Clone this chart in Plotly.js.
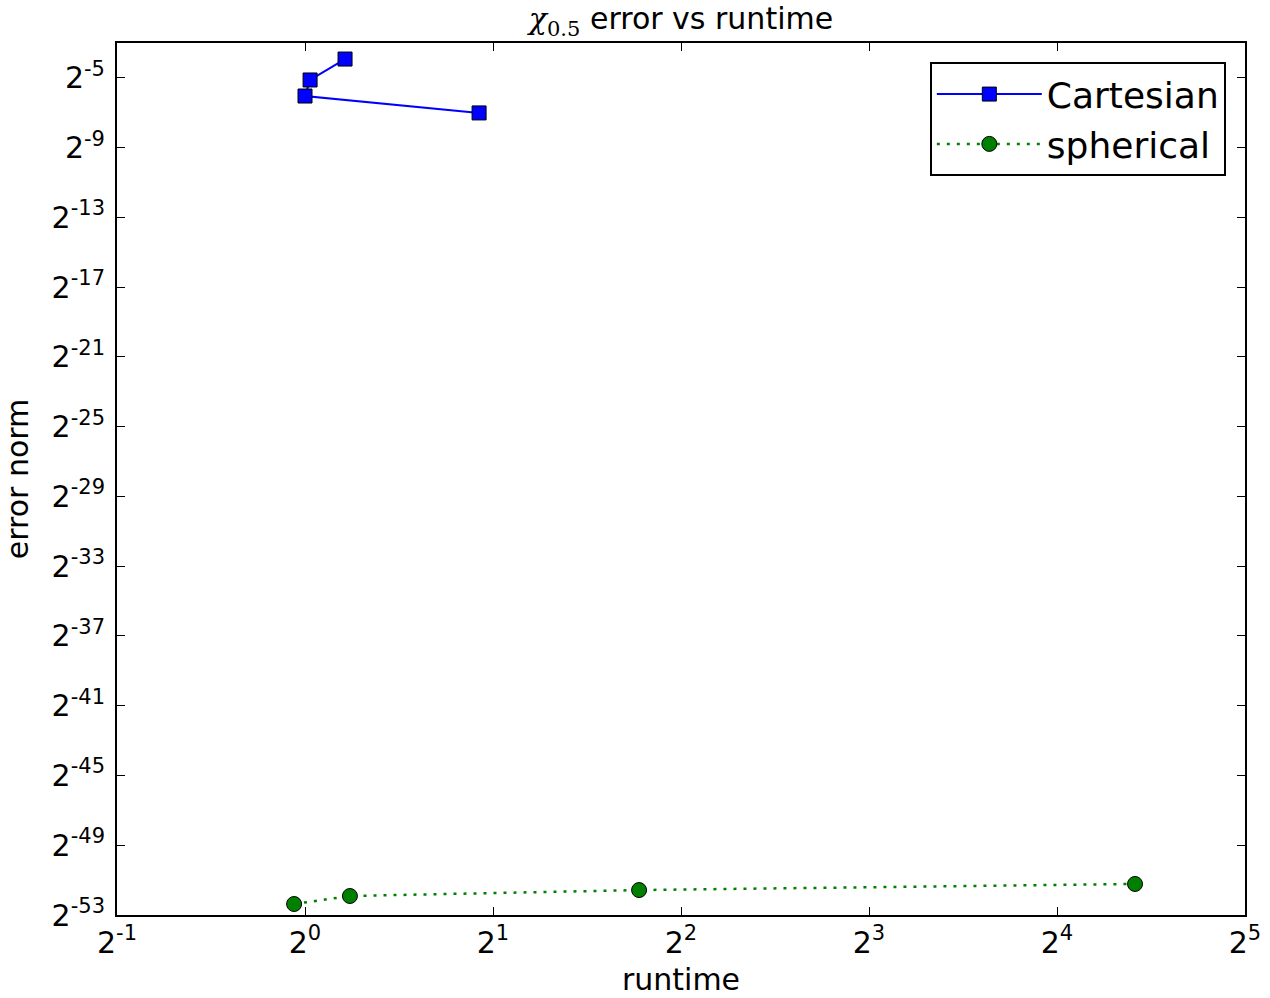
<!DOCTYPE html>
<html>
<head>
<meta charset="utf-8">
<script src="https://cdn.plot.ly/plotly-3.0.1.min.js"></script>
<style>html,body{margin:0;padding:0;background:#fff;}#chart{width:1270px;height:998px;}</style>
</head>
<body>
<div id="chart"></div>
<script>
// exponents (base 2)
const cartesianLog2X = [0.213, 0.027, 0.0, 0.926];
const cartesianLog2Y = [-3.92, -5.12, -6.04, -7.01];
const sphericalLog2X = [-0.058, 0.239, 1.777, 4.415];
const sphericalLog2Y = [-52.37, -51.91, -51.57, -51.22];
const xTickExps = [-1, 0, 1, 2, 3, 4, 5];
const yTickExps = [-5, -9, -13, -17, -21, -25, -29, -33, -37, -41, -45, -49, -53];

const p2 = e => Math.pow(2, e);
const font = "DejaVu Sans, sans-serif";

const traces = [
  {
    x: cartesianLog2X.map(p2), y: cartesianLog2Y.map(p2),
    name: "Cartesian", mode: "lines+markers",
    line: {color: "#0000ff", width: 2},
    marker: {symbol: "square", size: 14, color: "#0000ff", line: {color: "#000", width: 1}}
  },
  {
    x: sphericalLog2X.map(p2), y: sphericalLog2Y.map(p2),
    name: "spherical", mode: "lines+markers",
    line: {color: "#008000", width: 2.5, dash: "3px,7px"},
    marker: {symbol: "circle", size: 15, color: "#008000", line: {color: "#000", width: 1}}
  }
];

const axisCommon = {
  type: "log", showgrid: false, zeroline: false,
  showline: true, linecolor: "#000", linewidth: 2, mirror: "ticks",
  ticks: "inside", ticklen: 8, tickwidth: 1, tickcolor: "#000",
  tickfont: {family: font, size: 30, color: "#000"}
};

const layout = {
  width: 1270, height: 998,
  margin: {l: 117, r: 25, t: 43, b: 83},
  paper_bgcolor: "#fff", plot_bgcolor: "#fff",
  font: {family: font, color: "#000"},
  title: {
    text: "<span style=\"font-family:'DejaVu Serif'\"><i>χ</i><sub>0.5</sub></span> error vs runtime",
    font: {family: font, size: 30, color: "#000"},
    xref: "paper", x: 0.5, xanchor: "center", yref: "container", y: 0.981, yanchor: "middle"
  },
  xaxis: Object.assign({}, axisCommon, {
    range: [Math.log10(p2(-1)), Math.log10(p2(5))],
    tickvals: xTickExps.map(p2),
    ticktext: xTickExps.map(e => "2<sup>" + e + "</sup>"),
    title: {text: "runtime", font: {family: font, size: 30, color: "#000"}, standoff: 10}
  }),
  yaxis: Object.assign({}, axisCommon, {
    range: [Math.log10(p2(-53)), Math.log10(p2(-3))],
    tickvals: yTickExps.map(p2),
    ticktext: yTickExps.map(e => "2<sup>" + e + "</sup>"),
    ticklabelstandoff: 4,
    title: {text: "error norm", font: {family: font, size: 30, color: "#000"}, standoff: 14}
  }),
  showlegend: true,
  legend: {
    x: 0.983, y: 0.978, xanchor: "right", yanchor: "top",
    bgcolor: "#fff", bordercolor: "#000", borderwidth: 2,
    font: {family: font, size: 36, color: "#000"},
    itemwidth: 105, tracegroupgap: 0
  }
};

Plotly.newPlot("chart", traces, layout, {displayModeBar: false, staticPlot: true});
</script>
</body>
</html>
